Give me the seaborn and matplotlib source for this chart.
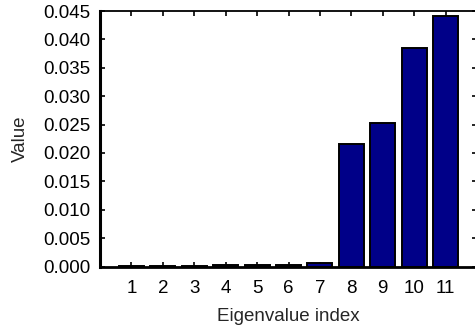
import numpy as np
import pandas as pd
import matplotlib
matplotlib.use("Agg")
import matplotlib.pyplot as plt
import seaborn as sns

# eigenvalue spectrum
eig_index = [1, 2, 3, 4, 5, 6, 7, 8, 9, 10, 11]
eig_values = [0.0001, 0.0001, 0.0001, 0.0002, 0.0003, 0.0003, 0.0006,
              0.0215, 0.0253, 0.0384, 0.0441]
y_ticks = [0.000, 0.005, 0.010, 0.015, 0.020, 0.025, 0.030, 0.035, 0.040, 0.045]

sns.set_theme(style="ticks")
plt.rcParams['font.family'] = ['Liberation Sans', 'DejaVu Sans']

df = pd.DataFrame({'idx': eig_index, 'val': eig_values})

fig = plt.figure(figsize=(4.75, 3.29), dpi=100)
# right spine sits just past the image edge, as in the reference
ax = fig.add_axes([100 / 475, 1 - 266.5 / 329, 377 / 475, 255.5 / 329])

sns.barplot(data=df, x='idx', y='val', native_scale=True, width=0.8,
            color='#000088', saturation=1, edgecolor='black', linewidth=1.4, ax=ax)

ax.set_xlim(0, 12)
ax.set_ylim(0, 0.045)
ax.set_xticks(eig_index)
ax.set_xticklabels([str(i) for i in eig_index])
ax.set_yticks(y_ticks)
ax.set_yticklabels([f"{v:.3f}" for v in y_ticks])
ax.tick_params(direction='in', length=3.5, width=1.2, top=True, right=True,
               labelsize=13.5, colors='black', pad=7)
ax.tick_params(axis='x', pad=9.5)
for s in ax.spines.values():
    s.set_color('black')
    s.set_linewidth(1.3)
ax.spines['left'].set_linewidth(2.2)
ax.spines['bottom'].set_linewidth(2.0)
ax.set_xlabel('Eigenvalue index', fontsize=13.5, labelpad=8)
ax.set_ylabel('Value', fontsize=13.5, labelpad=10)

fig.savefig('out.png', dpi=100)
